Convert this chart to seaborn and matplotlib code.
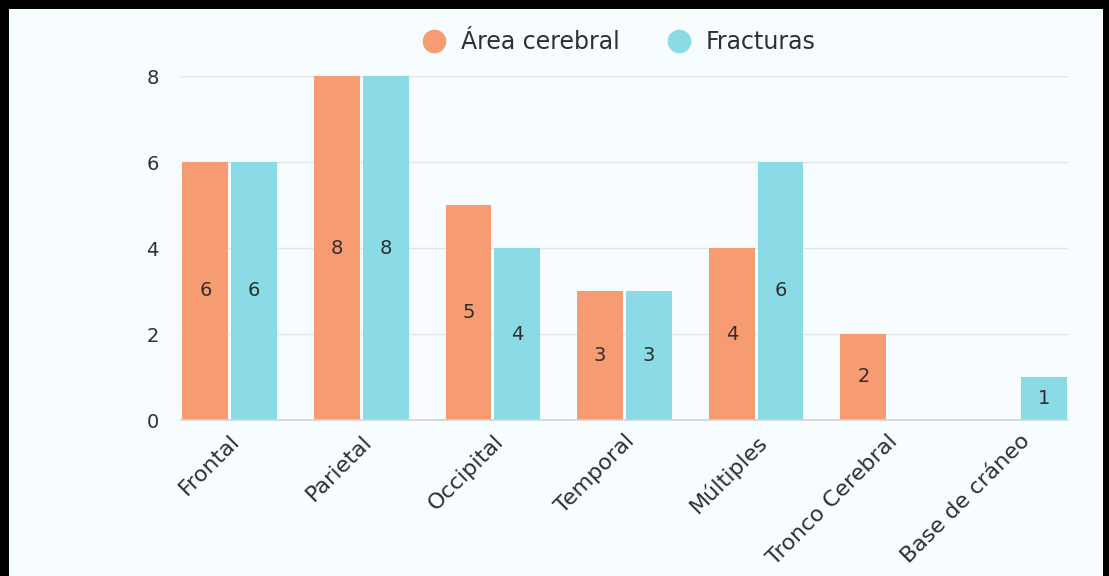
import pandas as pd
import matplotlib.pyplot as plt
import seaborn as sns
from matplotlib.patches import Rectangle
from matplotlib.lines import Line2D

# Data
categories = ['Frontal', 'Parietal', 'Occipital', 'Temporal', 'Múltiples',
              'Tronco Cerebral', 'Base de cráneo']
area_cerebral = [6, 8, 5, 3, 4, 2, 0]
fracturas = [6, 8, 4, 3, 6, 0, 1]
series_names = ['Área cerebral', 'Fracturas']

ORANGE = '#f79b72'
CYAN = '#8adbe6'
BG = '#f7fcfe'
TEXT = '#2f2f2f'

df = pd.DataFrame({
    'categoria': categories * 2,
    'valor': area_cerebral + fracturas,
    'serie': [series_names[0]] * len(categories) + [series_names[1]] * len(categories),
})

sns.set_theme(style="white")
plt.rcParams['font.family'] = ['DejaVu Sans']

fig = plt.figure(figsize=(11.09, 5.76), dpi=100)
fig.patch.set_facecolor('black')
# light panel inside the black frame
fig.patches.append(Rectangle((9 / 1109, 0), (1103 - 9) / 1109, 1 - 9 / 576,
                             transform=fig.transFigure, facecolor=BG,
                             edgecolor='none', zorder=-5))

ax = fig.add_axes([181 / 1109, 1 - 420 / 576, (1068 - 181) / 1109, (420 - 76) / 576])
ax.set_facecolor(BG)

sns.barplot(data=df, x='categoria', y='valor', hue='serie',
            palette=[ORANGE, CYAN], saturation=1, width=0.74, gap=0.06,
            edgecolor='none', legend=False, ax=ax)

for cont in ax.containers:
    labels = [f'{int(v)}' if v > 0 else '' for v in cont.datavalues]
    ax.bar_label(cont, labels=labels, label_type='center', fontsize=14, color=TEXT)

ax.set_ylim(0, 8)
ax.set_xlim(-0.37, len(categories) - 0.63)
ax.set_yticks([0, 2, 4, 6, 8])
ax.yaxis.grid(True, color='#dfe5ea', linewidth=1)
ax.set_axisbelow(True)
for s in ['top', 'right', 'left']:
    ax.spines[s].set_visible(False)
ax.spines['bottom'].set_color('#cfd5da')
ax.set_xlabel('')
ax.set_ylabel('')
ax.tick_params(axis='y', length=0, pad=16, labelsize=14, labelcolor=TEXT)
ax.tick_params(axis='x', length=0, pad=8, labelsize=16, labelcolor=TEXT)
ax.set_xticks(range(len(categories)))
ax.set_xticklabels(categories, rotation=45, ha='right', rotation_mode='anchor')

handles = [Line2D([], [], marker='o', linestyle='none', markersize=17,
                  markerfacecolor=c, markeredgecolor='none') for c in [ORANGE, CYAN]]
fig.legend(handles, series_names, loc='center', bbox_to_anchor=(613 / 1109, 1 - 42 / 576),
           ncol=2, frameon=False, fontsize=17, handletextpad=0.15, columnspacing=1.5,
           labelcolor=TEXT)

plt.savefig('out.png', dpi=100, facecolor=fig.get_facecolor())
